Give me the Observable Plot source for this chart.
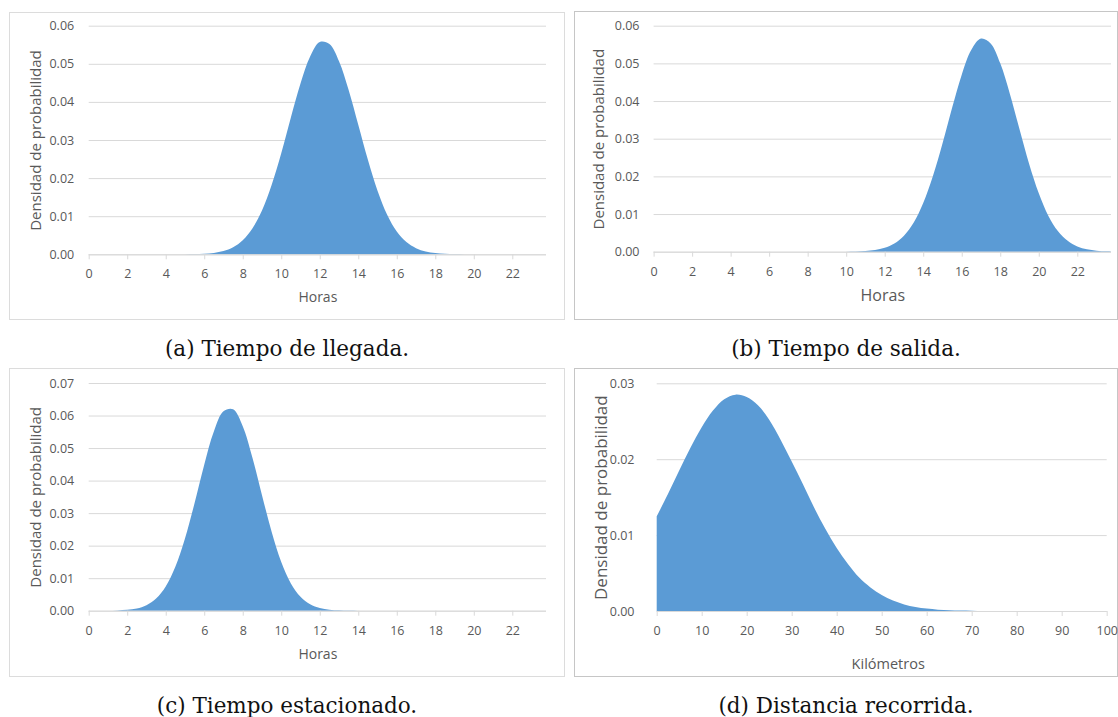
<!DOCTYPE html>
<html><head><meta charset="utf-8">
<script src="https://cdn.jsdelivr.net/npm/d3@7"></script>
<script src="https://cdn.jsdelivr.net/npm/@observablehq/plot@0.6"></script>
<style>
body{margin:0;background:#fff;}
#page{position:relative;width:1118px;height:717px;overflow:hidden;background:#fff;}
.panel{position:absolute;box-sizing:border-box;border:1px solid #dcdcdc;}
.plot{position:absolute;}
.cap{position:absolute;font-family:"DejaVu Serif",serif;font-size:21.5px;line-height:22px;color:#111;text-align:center;white-space:nowrap;}
</style></head><body><div id="page"></div>
<script>
// ---- data ----
const hours = [0,0.5,1,1.5,2,2.5,3,3.5,4,4.5,5,5.5,6,6.5,7,7.5,8,8.5,9,9.5,10,10.5,11,11.5,12,12.5,13,13.5,14,14.5,15,15.5,16,16.5,17,17.5,18,18.5,19,19.5,20,20.5,21,21.5,22,22.5,23,23.5,23.75];
const hourTicks = [0,2,4,6,8,10,12,14,16,18,20,22];

const llegadaDensidad = [0,0,0,0,0,0,0,0,0,0,
  0.00002,0.00006,0.00015,0.00037,0.00086,0.00185,0.0037,0.0068,0.0115,0.0182,
  0.0265,0.0359,0.0448,0.0519,0.0557,0.0552,0.0507,0.0431,0.0340,0.0248,
  0.0167,0.0104,0.0060,0.0032,0.0016,0.00073,0.00031,0.00012,0.00005,0.00001,
  0,0,0,0,0,0,0,0,0];

const salidaDensidad = [0,0,0,0,0,0,0,0,0,0,0,0,0,0,0,0,0,0,0,0,
  0.00002,0.00007,0.00018,0.00045,0.00102,0.00216,0.00424,0.00767,0.0129,0.0200,
  0.0287,0.0382,0.0470,0.0536,0.0566,0.0553,0.0500,0.0419,0.0325,0.0233,
  0.0155,0.0095,0.0054,0.0029,0.0014,0.00063,0.00026,0.0001,0.00006];

const estacionadoDensidad = [0,0,0,
  0.00009,0.00026,0.00069,0.00169,0.00372,0.00744,0.0135,0.0222,0.0331,0.0449,
  0.0551,0.0613,0.0619,0.0567,0.0471,0.0355,0.0243,0.0150,0.0084,0.0043,
  0.0020,0.00083,0.00032,0.00011,0.00003,
  0,0,0,0,0,0,0,0,0,0,0,0,0,0,0,0,0,0,0,0,0];

const km = [0,2.5,5,7.5,10,12.5,15,17.5,20,22.5,25,27.5,30,32.5,35,37.5,40,42.5,45,47.5,50,52.5,55,57.5,60,62.5,65,67.5,70,72.5,75,77.5,80,82.5,85,87.5,90,92.5,95,97.5,100];
const kmTicks = [0,10,20,30,40,50,60,70,80,90,100];
const distanciaDensidad = [0.01247,0.0154,0.0185,0.0215,0.0242,0.0264,0.0279,0.0285,0.0282,0.0271,
  0.0252,0.0226,0.0197,0.0167,0.0136,0.0108,0.0083,0.0062,0.0044,0.0031,
  0.0021,0.00137,0.00087,0.00053,0.00032,0.00018,0.0001,0.00005,0.00003,
  0,0,0,0,0,0,0,0,0,0,0,0];

const yTicks06 = [0,0.01,0.02,0.03,0.04,0.05,0.06];
const yTicks07 = [0,0.01,0.02,0.03,0.04,0.05,0.06,0.07];
const yTicks03 = [0,0.01,0.02,0.03];

const yTitle = "Densidad de probabilidad";
const captions = ["(a) Tiempo de llegada.","(b) Tiempo de salida.","(c) Tiempo estacionado.","(d) Distancia recorrida."];

// ---- layout ----
const panels = [
  {x:hours, y:llegadaDensidad, xDomain:[0,23.75], yDomain:[0,0.06], xTicks:hourTicks, yTicks:yTicks06, xTitle:"Horas",
   left:9, top:12, w:556, h:308, ml:79.7, mr:19, mt:13.7, mb:65.7, border:"#dcdcdc",
   tickFont:12.5, xPad:9.5, yPad:15, yTitleFont:15, yTitleDx:-53, xTitleFont:14, xTitleDy:43, xTitleDx:0, cap:captions[0], capTop:338},
  {x:hours, y:salidaDensidad, xDomain:[0,23.75], yDomain:[0,0.06], xTicks:hourTicks, yTicks:yTicks06, xTitle:"Horas",
   left:574, top:11, w:544, h:309, ml:79.6, mr:7, mt:14.7, mb:68.3, border:"#c6c6c6",
   tickFont:12.5, xPad:9.5, yPad:14.6, yTitleFont:15, yTitleDx:-54.6, xTitleFont:16, xTitleDy:44, xTitleDx:0, cap:captions[1], capTop:338},
  {x:hours, y:estacionadoDensidad, xDomain:[0,23.75], yDomain:[0,0.07], xTicks:hourTicks, yTicks:yTicks07, xTitle:"Horas",
   left:9, top:368, w:556, h:309, ml:79.7, mr:19, mt:15, mb:66.3, border:"#dcdcdc",
   tickFont:12.5, xPad:10, yPad:15, yTitleFont:15, yTitleDx:-53, xTitleFont:14, xTitleDy:43, xTitleDx:0, cap:captions[2], capTop:695},
  {x:km, y:distanciaDensidad, xDomain:[0,100], yDomain:[0,0.03], xTicks:kmTicks, yTicks:yTicks03, xTitle:"Kilómetros",
   left:574, top:368, w:544, h:309, ml:82.7, mr:11.3, mt:15.3, mb:66, border:"#c6c6c6",
   tickFont:12.5, xPad:10, yPad:22.7, yTitleFont:17, yTitleDx:-55.7, xTitleFont:14.5, xTitleDy:53, xTitleDx:6, cap:captions[3], capTop:695}
];

const page = document.getElementById("page");

for (const p of panels) {
  const data = p.x.map((x, i) => ({x, y: p.y[i]}));
  const border = document.createElement("div");
  border.className = "panel";
  Object.assign(border.style, {left:p.left+"px", top:p.top+"px", width:p.w+"px", height:p.h+"px", borderColor:p.border});
  page.appendChild(border);

  const chart = Plot.plot({
    width: p.w, height: p.h,
    marginLeft: p.ml, marginRight: p.mr, marginTop: p.mt, marginBottom: p.mb,
    style: {fontFamily: '"Open Sans", sans-serif', fontSize: p.tickFont + "px", color: "#595959", background: "transparent", overflow: "visible"},
    x: {domain: p.xDomain},
    y: {domain: p.yDomain},
    marks: [
      Plot.gridY(p.yTicks, {stroke: "#d9d9d9", strokeOpacity: 1, strokeWidth: 1}),
      Plot.areaY(data, {x: "x", y: "y", fill: "#5b9bd5", curve: "catmull-rom"}),
      Plot.ruleY([0], {stroke: "#d9d9d9", strokeWidth: 1}),
      Plot.axisX(p.xTicks, {tickSize: 5, tickPadding: p.xPad, stroke: "#d9d9d9", label: null, fontSize: p.tickFont, tickFormat: d => String(d)}),
      Plot.axisY(p.yTicks, {tickSize: 0, tickPadding: p.yPad, label: null, fontSize: p.tickFont, tickFormat: d => d.toFixed(2)}),
      Plot.text([yTitle], {text: d => d, frameAnchor: "left", rotate: -90, dx: p.yTitleDx, textAnchor: "middle", lineAnchor: "middle", fontSize: p.yTitleFont, fill: "#595959"}),
      Plot.text([p.xTitle], {text: d => d, frameAnchor: "bottom", dy: p.xTitleDy, dx: p.xTitleDx, textAnchor: "middle", lineAnchor: "middle", fontSize: p.xTitleFont, fill: "#595959"})
    ]
  });
  chart.classList.add("plot");
  chart.style.left = p.left + "px";
  chart.style.top = p.top + "px";
  page.appendChild(chart);

  const cap = document.createElement("div");
  cap.className = "cap";
  cap.textContent = p.cap;
  Object.assign(cap.style, {left:p.left+"px", width:p.w+"px", top:p.capTop+"px"});
  page.appendChild(cap);
}
</script>
</body></html>
